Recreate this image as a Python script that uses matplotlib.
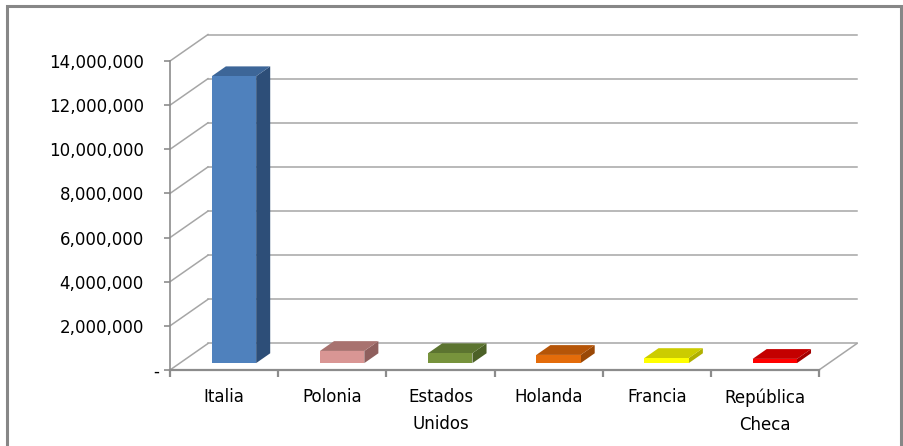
import matplotlib
matplotlib.use("Agg")
import matplotlib.pyplot as plt
from matplotlib.patches import Polygon, Rectangle
from matplotlib.ticker import FuncFormatter, FixedLocator

# ---- data ----
categories = ["Italia", "Polonia", "Estados\nUnidos", "Holanda", "Francia", "República\nCheca"]
values = [13000000, 550000, 450000, 370000, 230000, 190000]
y_ticks = [0, 2000000, 4000000, 6000000, 8000000, 10000000, 12000000, 14000000]

front_colors = ["#4F81BD", "#D99694", "#77933C", "#E46C0A", "#FFFF00", "#FF0000"]
top_colors = ["#3D6698", "#A8726F", "#5C7430", "#B55508", "#CCCC00", "#C40000"]
side_colors = ["#2D4E78", "#8F5F5D", "#4C6127", "#9A4806", "#B0B000", "#A30000"]

# ---- geometry (oblique 3D look) ----
DX = 0.351          # depth offset in category units
DY = 1200000        # depth offset in value units
F1, F2 = 0.26, 0.63 # bar front/back depth fraction
BW = 0.41           # bar width in category units
grid_c = "#A6A6A6"
axis_c = "#8C8C8C"

fig = plt.figure(figsize=(9.04, 4.46), dpi=100)
ax = fig.add_axes([0.16416, 0.14574, 0.80166, 0.79170])
ax.set_xlim(-0.2, 6.5)
ax.set_ylim(-500000, 15500000)
ax.patch.set_visible(False)

n = len(categories)
ymax = y_ticks[-1]

# back wall gridlines and side wall diagonals
for v in y_ticks:
    ax.plot([DX, n + DX], [v + DY, v + DY], color=grid_c, lw=1.1, zorder=1)
    ax.plot([0, DX], [v, v + DY], color=grid_c, lw=1.1, zorder=1)
# floor right edge
ax.plot([n, n + DX], [0, DY], color=grid_c, lw=1.1, zorder=1)

# bars
for i, v in enumerate(values):
    c = i + 0.5
    x0, x1 = c - BW / 2, c + BW / 2
    fx, fy = F1 * DX, F1 * DY
    bx, by = F2 * DX, F2 * DY
    side = Polygon([(x1 + fx, fy), (x1 + fx, fy + v), (x1 + bx, by + v), (x1 + bx, by)],
                   closed=True, facecolor=side_colors[i], edgecolor="none", zorder=3)
    top = Polygon([(x0 + fx, fy + v), (x1 + fx, fy + v), (x1 + bx, by + v), (x0 + bx, by + v)],
                  closed=True, facecolor=top_colors[i], edgecolor="none", zorder=3)
    front = Polygon([(x0 + fx, fy), (x1 + fx, fy), (x1 + fx, fy + v), (x0 + fx, fy + v)],
                    closed=True, facecolor=front_colors[i], edgecolor="none", zorder=4)
    for p in (side, top, front):
        ax.add_patch(p)

# axes / spines
for s in ("top", "right"):
    ax.spines[s].set_visible(False)
ax.spines["left"].set_bounds(0, ymax)
ax.spines["left"].set_position(("data", 0))
ax.spines["left"].set_color(axis_c)
ax.spines["left"].set_linewidth(1.2)
ax.spines["bottom"].set_bounds(0, n)
ax.spines["bottom"].set_position(("data", 0))
ax.spines["bottom"].set_color(axis_c)
ax.spines["bottom"].set_linewidth(1.6)

fs = 12
ax.yaxis.set_major_locator(FixedLocator(y_ticks))
ax.yaxis.set_major_formatter(FuncFormatter(lambda v, p: "-" if v == 0 else f"{int(v):,}"))
ax.tick_params(axis="y", direction="out", length=4, width=1.2, color=axis_c,
               labelsize=fs, pad=15)

ax.xaxis.set_major_locator(FixedLocator(list(range(n + 1))))
ax.xaxis.set_major_formatter(FuncFormatter(lambda v, p: ""))
ax.xaxis.set_minor_locator(FixedLocator([i + 0.5 for i in range(n)]))
ax.set_xticklabels(categories, minor=True, fontsize=fs, linespacing=1.65, va="top")
ax.tick_params(axis="x", which="major", direction="out", length=5, width=1.6, color=axis_c)
ax.tick_params(axis="x", which="minor", length=0, pad=13)

# shift the "-" zero label right
ticks = ax.yaxis.get_major_ticks()
ticks[0].set_pad(4)

# chart border
fig.add_artist(Rectangle((7 / 904, -0.02), 894 / 904, (446 - 6) / 446 + 0.02,
                         transform=fig.transFigure, fill=False,
                         edgecolor="#878787", lw=2.2))

fig.savefig("out.png", dpi=100)
